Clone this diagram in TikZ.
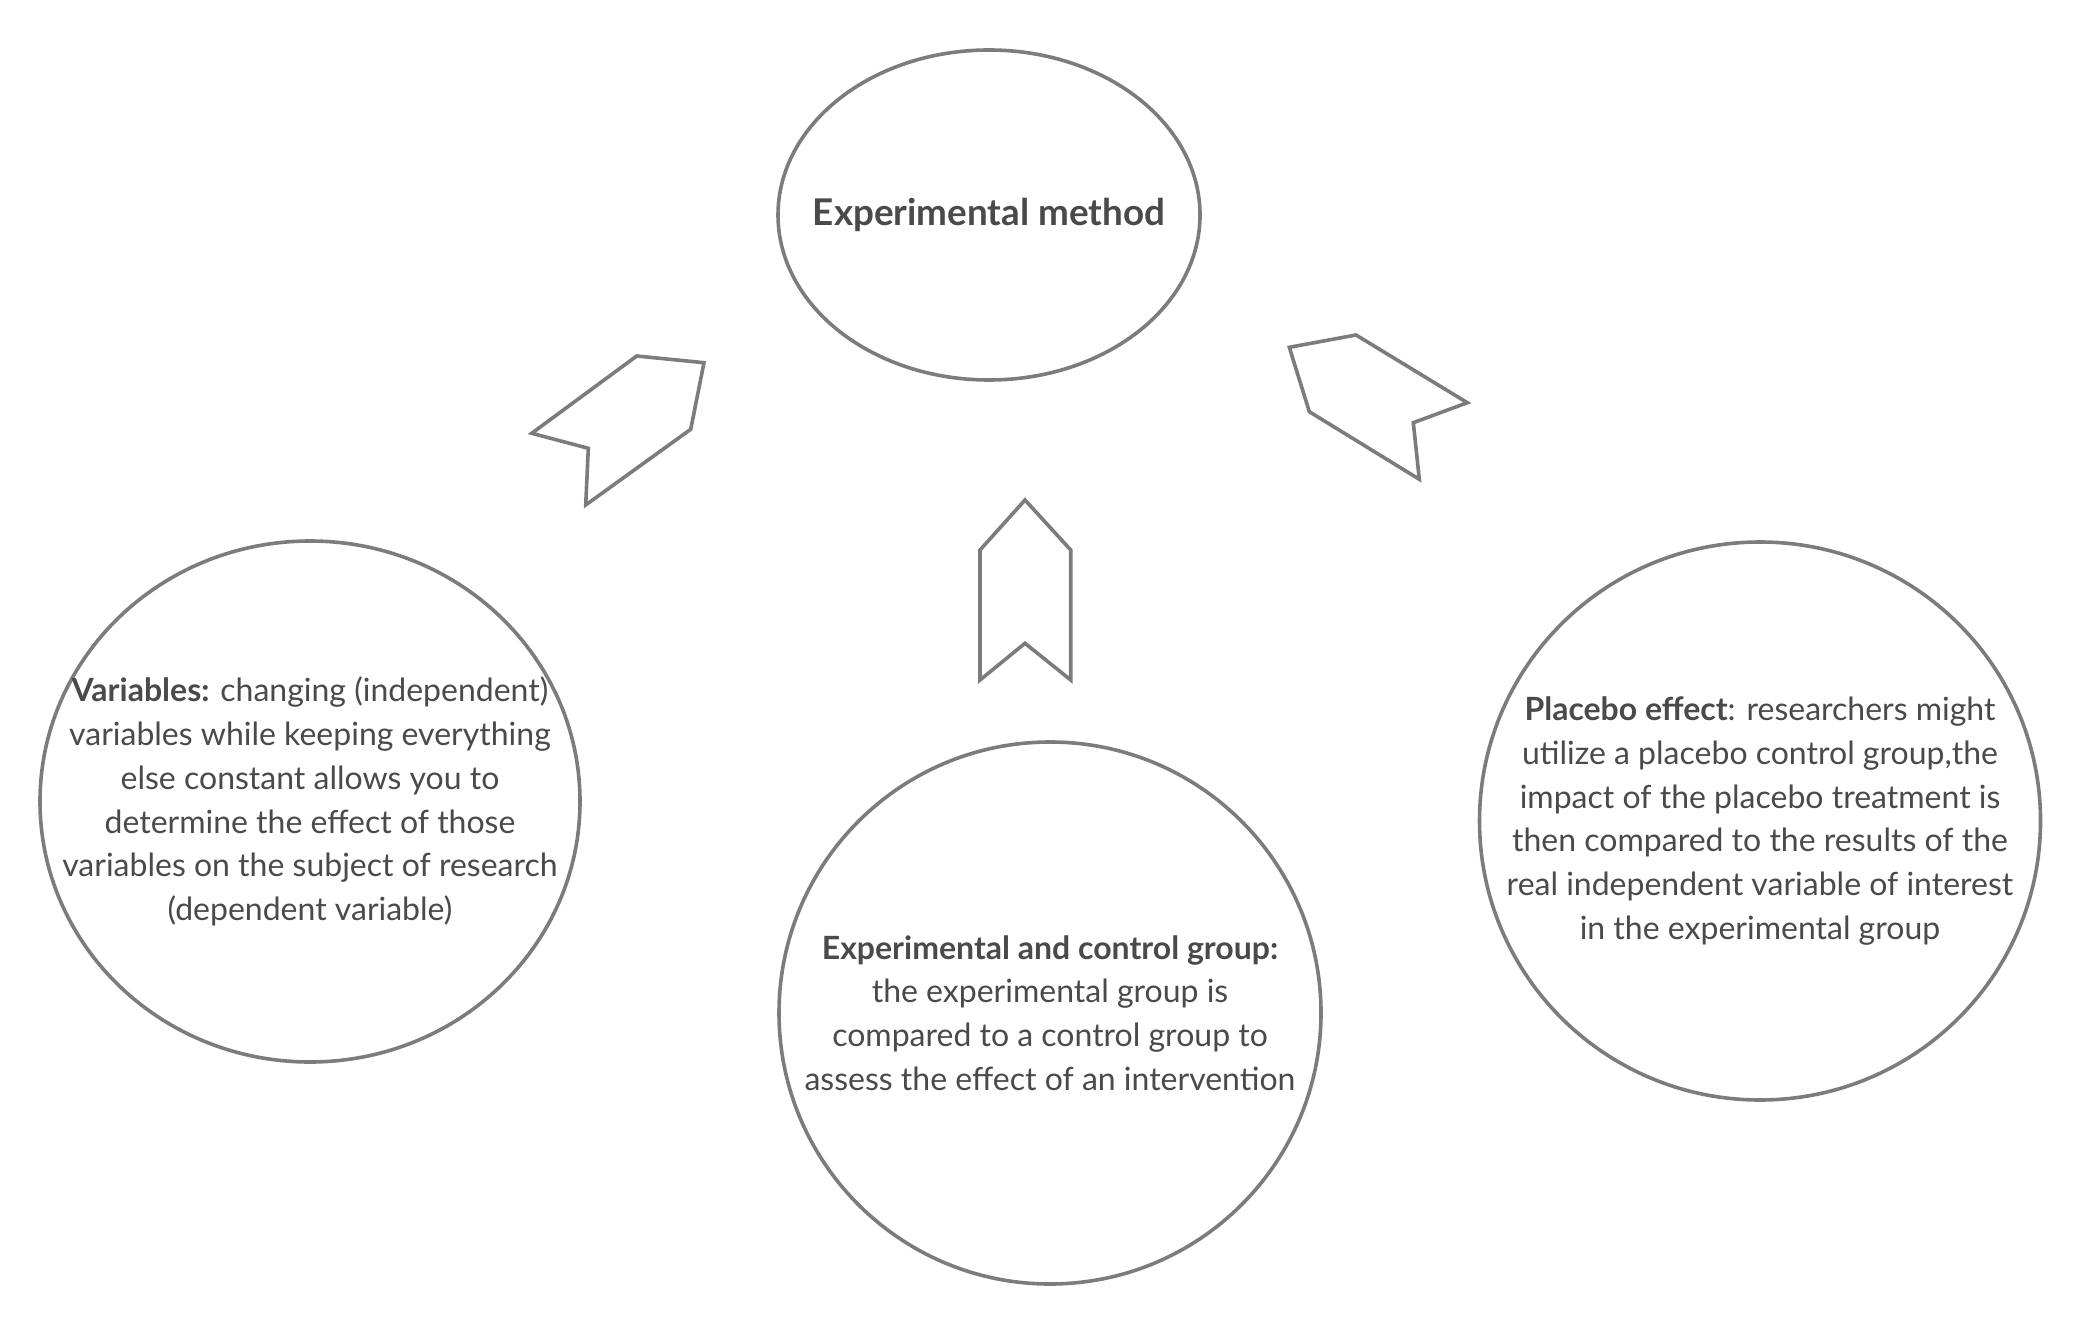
\documentclass[tikz,border=0pt]{standalone}
\usepackage{fontspec}
\setmainfont{Lato}
\usetikzlibrary{shapes.geometric}
\definecolor{linegray}{HTML}{7C7C7C}
\definecolor{txtgray}{HTML}{4A4A4A}
\tikzset{
  bubble/.style={draw=linegray, line width=1.8pt, ellipse, inner sep=0pt, fill=white},
  body/.style={text=txtgray, align=center, font=\fontsize{16pt}{21.9pt}\selectfont, inner sep=0pt},
  title/.style={text=txtgray, font=\fontsize{18.4pt}{22pt}\selectfont\bfseries, inner sep=0pt},
  blockarrow/.style={draw=linegray, line width=1.8pt, line join=miter, fill=white}
}
\begin{document}
\begin{tikzpicture}[x=0.5pt,y=-0.5pt]
\useasboundingbox (0,0) rectangle (2080,1320);
% ellipses
\node[bubble, minimum width=211pt, minimum height=165pt] (top) at (989,215) {};
\node[bubble, minimum width=270pt, minimum height=260.5pt] (left) at (310,801.5) {};
\node[bubble, minimum width=271pt, minimum height=271pt] (mid) at (1050,1013) {};
\node[bubble, minimum width=280.5pt, minimum height=279pt] (right) at (1760,821) {};
% texts
\node[title] (toptext) at (top.center) {Experimental method};
\node[body] (lefttext) at (left.center) {\textbf{Variables:} changing (independent)\\variables while keeping everything\\else constant allows you to\\determine the effect of those\\variables on the subject of research\\(dependent variable)};
\node[body] (midtext) at (mid.center) {\textbf{Experimental and control group:}\\the experimental group is\\compared to a control group to\\assess the effect of an intervention};
\node[body] (righttext) at (right.center) {\textbf{Placebo effect}: researchers might\\utilize a placebo control group,the\\impact of the placebo treatment is\\then compared to the results of the\\real independent variable of interest\\in the experimental group};
% block arrows
\draw[blockarrow] (636.7,356) -- (704,362.7) -- (690.7,429.3) -- (585.7,505) -- (588.3,448.3) -- (531.7,433.3) -- cycle;
\draw[blockarrow] (1025,500) -- (1070.7,550) -- (1070.7,680) -- (1025,643.3) -- (980,680) -- (980,550) -- cycle;
\draw[blockarrow] (1289.3,347.3) -- (1356,335) -- (1467.3,402.7) -- (1413.3,422.7) -- (1419.3,479.3) -- (1309.3,411.7) -- cycle;
\end{tikzpicture}
\end{document}
